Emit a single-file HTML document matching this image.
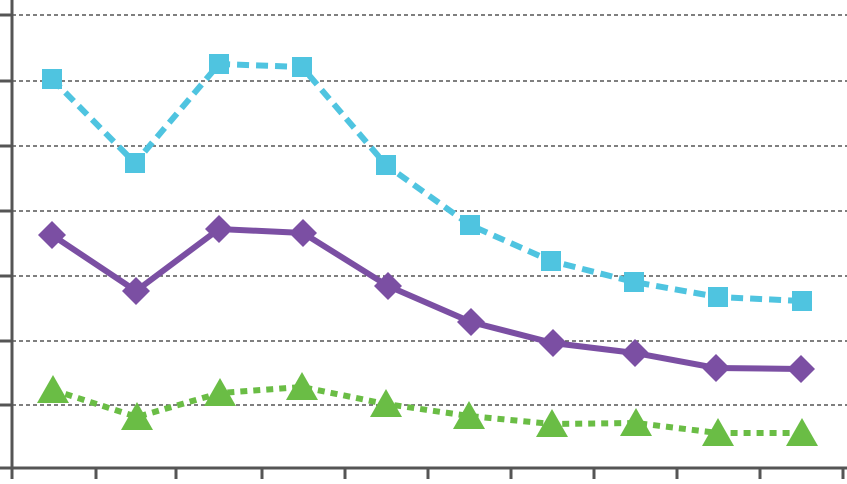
<!DOCTYPE html>
<html><head><style>html,body{margin:0;padding:0;background:#fff}</style></head><body>
<svg width="847" height="479" viewBox="0 0 847 479" xmlns="http://www.w3.org/2000/svg">
<g stroke="#555" stroke-width="1.5" stroke-dasharray="4,3">
<line x1="12" y1="15" x2="847" y2="15"/><line x1="12" y1="81" x2="847" y2="81"/><line x1="12" y1="146" x2="847" y2="146"/><line x1="12" y1="211" x2="847" y2="211"/><line x1="12" y1="276" x2="847" y2="276"/><line x1="12" y1="341" x2="847" y2="341"/><line x1="12" y1="405" x2="847" y2="405"/>
</g>
<g stroke="#555" stroke-width="3">
<line x1="12" y1="0" x2="12" y2="479"/><line x1="0" y1="468" x2="847" y2="468"/>
<line x1="0" y1="15" x2="12" y2="15"/><line x1="0" y1="81" x2="12" y2="81"/><line x1="0" y1="146" x2="12" y2="146"/><line x1="0" y1="211" x2="12" y2="211"/><line x1="0" y1="276" x2="12" y2="276"/><line x1="0" y1="341" x2="12" y2="341"/><line x1="0" y1="405" x2="12" y2="405"/>
<line x1="96" y1="468" x2="96" y2="479"/><line x1="176" y1="468" x2="176" y2="479"/><line x1="262" y1="468" x2="262" y2="479"/><line x1="345" y1="468" x2="345" y2="479"/><line x1="428" y1="468" x2="428" y2="479"/><line x1="511" y1="468" x2="511" y2="479"/><line x1="594" y1="468" x2="594" y2="479"/><line x1="677" y1="468" x2="677" y2="479"/><line x1="760" y1="468" x2="760" y2="479"/><line x1="843" y1="468" x2="843" y2="479"/>
</g>
<polyline fill="none" stroke="#4fc4e0" stroke-width="6" stroke-dasharray="12,7" points="52,79 135,163 219,64 302,67 386,165 470,225 551,261 634,282 718,297 802,301"/>
<g fill="#4fc4e0">
<rect x="42" y="69" width="20" height="20"/><rect x="125" y="153" width="20" height="20"/><rect x="209" y="54" width="20" height="20"/><rect x="292" y="57" width="20" height="20"/><rect x="376" y="155" width="20" height="20"/><rect x="460" y="215" width="20" height="20"/><rect x="541" y="251" width="20" height="20"/><rect x="624" y="272" width="20" height="20"/><rect x="708" y="287" width="20" height="20"/><rect x="792" y="291" width="20" height="20"/>
</g>
<polyline fill="none" stroke="#7b4fa3" stroke-width="6" points="52,235 136,291 219,229 303,233 388,286 471,322 553,343 635,353 716,368 801,369"/>
<g fill="#7b4fa3">
<path d="M52,221 L66,235 L52,249 L38,235Z"/><path d="M136,277 L150,291 L136,305 L122,291Z"/><path d="M219,215 L233,229 L219,243 L205,229Z"/><path d="M303,219 L317,233 L303,247 L289,233Z"/><path d="M388,272 L402,286 L388,300 L374,286Z"/><path d="M471,308 L485,322 L471,336 L457,322Z"/><path d="M553,329 L567,343 L553,357 L539,343Z"/><path d="M635,339 L649,353 L635,367 L621,353Z"/><path d="M716,354 L730,368 L716,382 L702,368Z"/><path d="M801,355 L815,369 L801,383 L787,369Z"/>
</g>
<polyline fill="none" stroke="#6abd45" stroke-width="6" stroke-dasharray="7,6" points="53,390 137,417 220,393 302,387 386,404 469,416 552,424 636,423 718,433 802,433"/>
<g fill="#6abd45">
<path d="M53,375 L69,403 L37,403Z"/><path d="M137,402 L153,430 L121,430Z"/><path d="M220,378 L236,406 L204,406Z"/><path d="M302,372 L318,400 L286,400Z"/><path d="M386,389 L402,417 L370,417Z"/><path d="M469,401 L485,429 L453,429Z"/><path d="M552,409 L568,437 L536,437Z"/><path d="M636,408 L652,436 L620,436Z"/><path d="M718,418 L734,446 L702,446Z"/><path d="M802,418 L818,446 L786,446Z"/>
</g>
</svg>
</body></html>
